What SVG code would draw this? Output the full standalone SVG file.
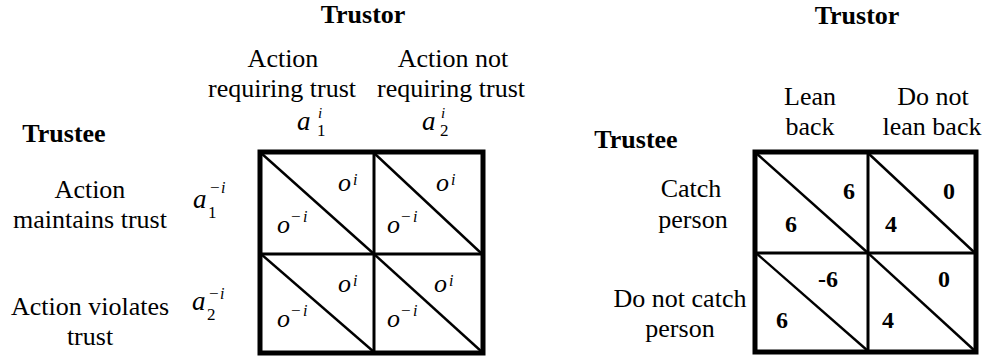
<svg xmlns="http://www.w3.org/2000/svg" width="987" height="358" viewBox="0 0 987 358" font-family="'Liberation Serif', 'Times New Roman', Times, serif">
  <style>
    text { font-family: 'Liberation Serif', 'Times New Roman', Times, serif; fill: #000; }
    .lbl { font-size: 26px; text-anchor: middle; }
    .hdr { font-size: 26px; font-weight: bold; text-anchor: middle; }
    .num { font-size: 24px; font-weight: bold; }
    .m { font-style: italic; }
    .mb { font-size: 27px; }
    .mo { font-size: 26px; }
    .ms { font-size: 16px; }
    .mt { font-size: 15px; }
    .mn { font-style: normal; font-size: 17px; }
    .outer { fill: none; stroke: #000; stroke-width: 5; }
    .inner { stroke: #000; stroke-width: 3; }
    .diag { stroke: #000; stroke-width: 2.4; }
  </style>

  <!-- Left game: generic trust game -->
  <g id="left-trustor-title">
    <text class="hdr" x="363" y="23">Trustor</text>
  </g>
  <g id="left-trustee-title">
    <text class="hdr" x="64" y="142">Trustee</text>
  </g>
  <g id="left-col1-header">
    <text class="lbl" x="283" y="67">Action</text>
    <text class="lbl" x="282" y="97">requiring trust</text>
    <text class="m mb" x="297" y="130">a</text>
    <text class="m mt" x="318" y="118">i</text>
    <text class="mn" x="317" y="136" font-size="16">1</text>
  </g>
  <g id="left-col2-header">
    <text class="lbl" x="453" y="67">Action not</text>
    <text class="lbl" x="451" y="97">requiring trust</text>
    <text class="m mb" x="422" y="130">a</text>
    <text class="m mt" x="441" y="118">i</text>
    <text class="mn" x="440" y="136" font-size="16">2</text>
  </g>
  <g id="left-row1-header">
    <text class="lbl" x="90" y="198">Action</text>
    <text class="lbl" x="90" y="228">maintains trust</text>
    <text class="m mb" x="193" y="208">a</text>
    <text class="mn" x="208" y="218">1</text>
    <text class="mn" x="210" y="193">−</text>
    <text class="m ms" x="221" y="193">i</text>
  </g>
  <g id="left-row2-header">
    <text class="lbl" x="90" y="315">Action violates</text>
    <text class="lbl" x="90" y="345">trust</text>
    <text class="m mb" x="192" y="310">a</text>
    <text class="mn" x="207" y="320">2</text>
    <text class="mn" x="209" y="299">−</text>
    <text class="m ms" x="220" y="299">i</text>
  </g>

  <g id="left-grid">
    <line class="inner" x1="374" y1="152" x2="374" y2="353"/>
    <line class="inner" x1="260" y1="254" x2="483" y2="254"/>
    <line class="diag" x1="261" y1="153" x2="374" y2="254"/>
    <line class="diag" x1="374" y1="153" x2="482" y2="254"/>
    <line class="diag" x1="261" y1="254" x2="374" y2="352"/>
    <line class="diag" x1="374" y1="254" x2="482" y2="352"/>
    <rect class="outer" x="260" y="152" width="223" height="201"/>
  </g>

  <g id="left-cell-11">
    <text class="m mo" x="338" y="191">o</text>
    <text class="m ms" x="353" y="185">i</text>
    <text class="m mo" x="277" y="233">o</text>
    <text class="mn" x="291" y="222">−</text>
    <text class="m ms" x="303" y="222">i</text>
  </g>
  <g id="left-cell-12">
    <text class="m mo" x="436" y="191">o</text>
    <text class="m ms" x="451" y="185">i</text>
    <text class="m mo" x="387" y="233">o</text>
    <text class="mn" x="401" y="222">−</text>
    <text class="m ms" x="413" y="222">i</text>
  </g>
  <g id="left-cell-21">
    <text class="m mo" x="338" y="292">o</text>
    <text class="m ms" x="353" y="286">i</text>
    <text class="m mo" x="277" y="327">o</text>
    <text class="mn" x="291" y="316">−</text>
    <text class="m ms" x="303" y="316">i</text>
  </g>
  <g id="left-cell-22">
    <text class="m mo" x="434" y="292">o</text>
    <text class="m ms" x="449" y="286">i</text>
    <text class="m mo" x="387" y="327">o</text>
    <text class="mn" x="401" y="316">−</text>
    <text class="m ms" x="413" y="316">i</text>
  </g>

  <!-- Right game: trust-fall example -->
  <g id="right-trustor-title">
    <text class="hdr" x="857" y="24">Trustor</text>
  </g>
  <g id="right-trustee-title">
    <text class="hdr" x="636" y="148">Trustee</text>
  </g>
  <g id="right-col1-header">
    <text class="lbl" x="810" y="105">Lean</text>
    <text class="lbl" x="810" y="135">back</text>
  </g>
  <g id="right-col2-header">
    <text class="lbl" x="933" y="105">Do not</text>
    <text class="lbl" x="932" y="135">lean back</text>
  </g>
  <g id="right-row1-header">
    <text class="lbl" x="691" y="197">Catch</text>
    <text class="lbl" x="693" y="228">person</text>
  </g>
  <g id="right-row2-header">
    <text class="lbl" x="680" y="307">Do not catch</text>
    <text class="lbl" x="680" y="337">person</text>
  </g>

  <g id="right-grid">
    <line class="inner" x1="868" y1="152" x2="868" y2="352"/>
    <line class="inner" x1="755" y1="253" x2="976" y2="253"/>
    <line class="diag" x1="756" y1="153" x2="868" y2="253"/>
    <line class="diag" x1="868" y1="153" x2="975" y2="253"/>
    <line class="diag" x1="756" y1="253" x2="868" y2="351"/>
    <line class="diag" x1="868" y1="253" x2="975" y2="351"/>
    <rect class="outer" x="755" y="152" width="221" height="200"/>
  </g>

  <g id="right-cell-11">
    <text class="num" x="843" y="199">6</text>
    <text class="num" x="785" y="232">6</text>
  </g>
  <g id="right-cell-12">
    <text class="num" x="943" y="199">0</text>
    <text class="num" x="885" y="232">4</text>
  </g>
  <g id="right-cell-21">
    <text class="num" x="818" y="287">-6</text>
    <text class="num" x="776" y="328">6</text>
  </g>
  <g id="right-cell-22">
    <text class="num" x="938" y="287">0</text>
    <text class="num" x="882" y="328">4</text>
  </g>
</svg>
